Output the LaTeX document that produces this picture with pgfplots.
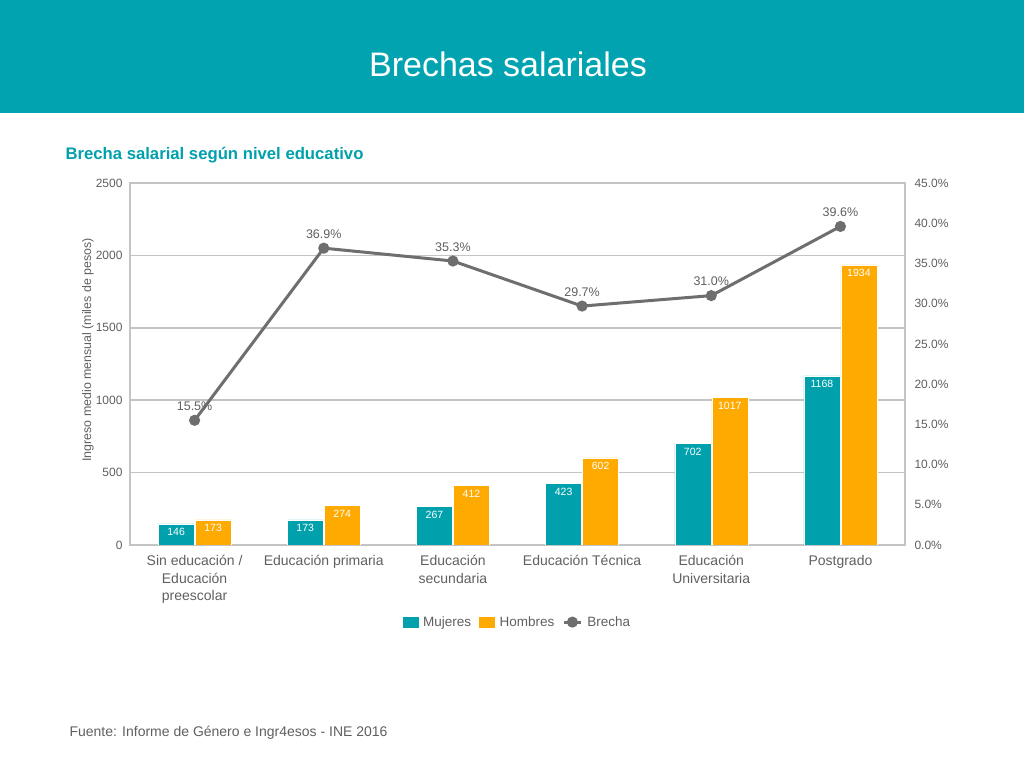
\documentclass[border=0pt]{standalone}
\usepackage{fontspec}
\setmainfont{Liberation Sans}
\usepackage{pgfplots}
\pgfplotsset{compat=1.18}
\definecolor{headc}{RGB}{0,163,175}
\definecolor{tealc}{RGB}{0,160,172}
\definecolor{orangec}{RGB}{255,170,0}
\definecolor{linec}{RGB}{110,110,110}
\definecolor{gridc}{RGB}{196,196,196}
\definecolor{textc}{RGB}{96,96,96}
\pgfplotsset{/pgf/number format/1000 sep={}}

\begin{document}
\begin{tikzpicture}[x=1pt,y=1pt]
\fill[white] (0,0) rectangle (1024,768);
\fill[headc] (0,655) rectangle (1024,768);
\node[white, font=\fontsize{34}{40}\selectfont] at (508,704) {Brechas salariales};
\node[anchor=west, tealc, font=\bfseries\fontsize{16.7}{20}\selectfont] at (62,613) {Brecha salarial según nivel educativo};
\node[anchor=west, textc, font=\fontsize{14}{17}\selectfont] at (66,35) {Fuente: Informe de Género e Ingr4esos - INE 2016};
\node[rotate=90, textc, font=\fontsize{12.4}{15}\selectfont] at (88,418) {Ingreso medio mensual (miles de pesos)};

\begin{axis}[
  at={(130pt,223pt)}, anchor=south west,
  width=775pt, height=362pt, scale only axis,
  ybar=1pt, bar width=36pt,
  xmin=-0.5, xmax=5.5, ymin=0, ymax=2500,
  xtick={0,...,5},
  xticklabels={Sin educación /\\Educación\\preescolar, Educación primaria, Educación\\secundaria, Educación Técnica, Educación\\Universitaria, Postgrado},
  xticklabel style={align=center, textc, font=\fontsize{14}{17.5}\selectfont, anchor=north, yshift=-7pt},
  ytick={0,500,...,2500},
  yticklabel style={textc, font=\fontsize{12}{14}\selectfont, xshift=-4pt},
  /pgf/number format/assume math mode=true,
  major tick length=0pt,
  ymajorgrids, grid style={gridc, line width=1.5pt},
  axis line style={gridc, line width=1.5pt},
  nodes near coords,
  nodes near coords align={below},
  every node near coord/.append style={white, font=\fontsize{10.5}{12}\selectfont, yshift=-1pt},
]
\addplot[fill=tealc, draw=white, line width=0.5pt] coordinates {(0,146) (1,173) (2,267) (3,423) (4,702) (5,1168)};
\addplot[fill=orangec, draw=white, line width=0.5pt] coordinates {(0,173) (1,274) (2,412) (3,602) (4,1017) (5,1934)};
\end{axis}

\begin{axis}[
  at={(130pt,223pt)}, anchor=south west,
  width=775pt, height=362pt, scale only axis,
  xmin=-0.5, xmax=5.5, ymin=0, ymax=45,
  axis x line=none, axis y line*=right,
  ytick={0,5,...,45},
  yticklabel={\pgfmathprintnumber[fixed,fixed zerofill,precision=1]{\tick}\%},
  yticklabel style={textc, font=\fontsize{12}{14}\selectfont, xshift=6pt},
  /pgf/number format/assume math mode=true,
  major tick length=0pt,
  axis line style={gridc, line width=1.5pt},
  legend style={at={(0.5,-0.213)}, anchor=center, draw=none, legend columns=3,
    font=\fontsize{13.5}{16}\selectfont, text=textc,
    /tikz/every odd column/.append style={column sep=3pt},
    /tikz/every even column/.append style={column sep=6pt}},
]
\addlegendimage{legend image code/.code={\fill[tealc] (0pt,-5pt) rectangle (15pt,5pt);}}
\addlegendentry{Mujeres}
\addlegendimage{legend image code/.code={\fill[orangec] (0pt,-5pt) rectangle (15pt,5pt);}}
\addlegendentry{Hombres}
\addplot[linec, line width=3pt, mark=*, mark size=4pt,
  nodes near coords={\pgfmathprintnumber[fixed,fixed zerofill,precision=1]{\pgfplotspointmeta}\%},
  every node near coord/.append style={textc, font=\fontsize{12.5}{14}\selectfont, anchor=south, yshift=5pt}]
  coordinates {(0,15.5) (1,36.9) (2,35.3) (3,29.7) (4,31.0) (5,39.6)};
\addlegendentry{Brecha}
\end{axis}
\end{tikzpicture}
\end{document}
